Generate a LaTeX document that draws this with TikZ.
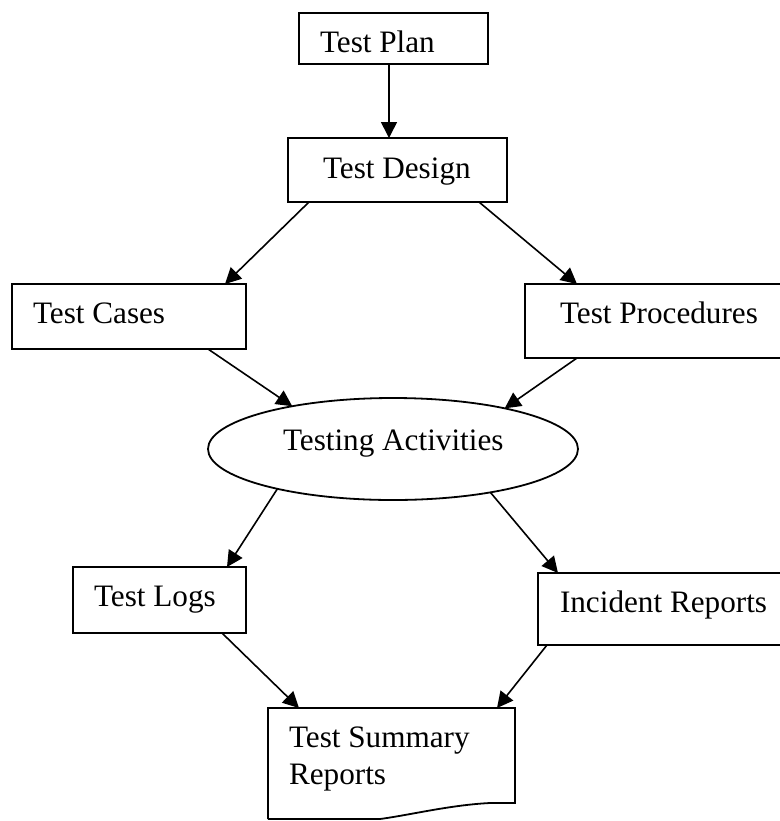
\documentclass[tikz,border=0pt]{standalone}
\usepackage{fontspec}
\setmainfont{Liberation Serif}
\usetikzlibrary{shapes.geometric,arrows.meta}
\begin{document}
\begin{tikzpicture}[x=0.5pt,y=-0.5pt,
  box/.style={draw,rectangle,inner sep=0pt,outer sep=0pt,line width=0.9pt},
  txt/.style={inner sep=0pt,outer sep=0pt,anchor=base west,font=\fontsize{15.6pt}{18pt}\selectfont},
  arr/.style={line width=0.8pt,-{Triangle[length=8pt,width=8pt]}}]
\useasboundingbox (0,0) rectangle (780,821);
\clip (0,0) rectangle (780,821);
% boxes
\node[box,minimum width=94.5pt,minimum height=25.5pt] (plan) at (393.5,38.5) {};
\node[box,minimum width=109.5pt,minimum height=32pt] (design) at (397.5,170) {};
\node[box,minimum width=117pt,minimum height=32.5pt] (cases) at (129,316.5) {};
\node[box,minimum width=132.5pt,minimum height=37pt] (proc) at (657.5,321) {};
\node[draw,ellipse,inner sep=0pt,outer sep=0pt,line width=0.9pt,minimum width=185pt,minimum height=51pt] (ell) at (393,449) {};
\node[box,minimum width=86.5pt,minimum height=33pt] (logs) at (159.5,600) {};
\node[box,minimum width=126pt,minimum height=36pt] (incident) at (664,609) {};
\node[rectangle,inner sep=0pt,outer sep=0pt,minimum width=123.5pt,minimum height=55.5pt] (summary) at (391.5,763.5) {};
\draw[line width=0.9pt,line join=miter] (summary.south west) -- (summary.north west) -- (summary.north east)
  -- ([yshift=8pt]summary.south east) -- ([xshift=-12.5pt,yshift=8pt]summary.south east)
  .. controls ([xshift=-32.5pt,yshift=7pt]summary.south east) and ([xshift=-52.5pt,yshift=2pt]summary.south east)
  .. ([xshift=-67.5pt]summary.south east) -- (summary.south west);
% texts
\node[txt] (tplan) at (320,52) {Test Plan};
\node[txt] (tdesign) at (323,178) {Test Design};
\node[txt] (tcases) at (33,323) {Test Cases};
\node[txt] (tproc) at (560,323) {Test Procedures};
\node[txt] (tell) at (283,450) {Testing Activities};
\node[txt] (tlogs) at (94,606) {Test Logs};
\node[txt] (tinc) at (560,612) {Incident Reports};
\node[txt] (tsum1) at (289,747) {Test Summary};
\node[txt] (tsum2) at (289,784) {Reports};
% connectors
\draw[arr] ([xshift=-2.25pt]plan.south) -- ([xshift=-2.25pt]plan.south |- design.north);
\draw[arr] ([xshift=10.5pt]design.south west) -- ([xshift=-10.5pt]cases.north east);
\draw[arr] ([xshift=-14pt]design.south east) -- ([xshift=26pt]proc.north west);
\draw[arr] ([xshift=-19pt]cases.south east) -- (ell.157.3);
\draw[arr] ([xshift=26pt]proc.south west) -- (ell.20.2);
\draw[arr] (ell.199.2) -- ([xshift=-9.5pt]logs.north east);
\draw[arr] (ell.336.7) -- ([xshift=10pt]incident.north west);
\draw[arr] ([xshift=-12pt]logs.south east) -- ([xshift=15.5pt]summary.north west);
\draw[arr] ([xshift=4.5pt]incident.south west) -- ([xshift=-9pt]summary.north east);
\end{tikzpicture}
\end{document}
